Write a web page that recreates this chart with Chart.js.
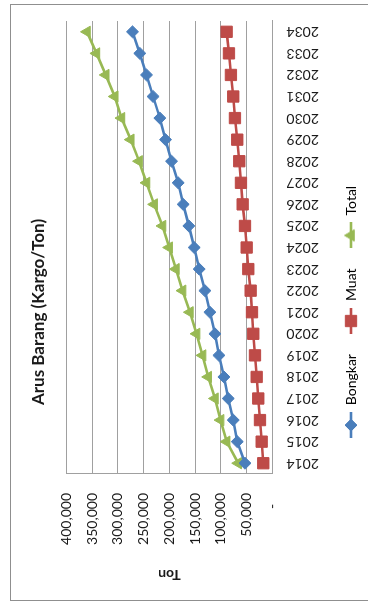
<!DOCTYPE html>
<html>
<head>
<meta charset="utf-8">
<script src="https://cdn.jsdelivr.net/npm/chart.js@4.4.1/dist/chart.umd.min.js"></script>
<style>
    body { margin: 0; background: #fff; width: 368px; height: 603px; overflow: hidden; position: relative; }
    #frame { position: absolute; left: 10px; top: 4px; width: 420px; height: 597px; border: 1.5px solid #8f8f8f; box-sizing: border-box; }
    /* the chart is laid out landscape and turned a quarter left */
    #wrap { position: absolute; left: 0; top: 0; width: 603px; height: 368px; transform-origin: 0 0; transform: translate(0, 603px) rotate(-90deg); }
</style>
</head>
<body>
<div id="frame"></div>
<div id="wrap"><canvas id="myChart" width="603" height="368"></canvas></div>
<script>
"use strict";

const years = ["2014", "2015", "2016", "2017", "2018", "2019", "2020", "2021", "2022", "2023", "2024",
    "2025", "2026", "2027", "2028", "2029", "2030", "2031", "2032", "2033", "2034"];
const bongkar = [53400, 68400, 76200, 85900, 94300, 104000, 111700, 121500, 131200, 142300, 152000,
    162300, 173400, 183100, 195900, 207600, 218600, 231700, 244500, 257500, 271700];
const muat = [17900, 21000, 24300, 27600, 30700, 34000, 37300, 39800, 42400, 47000, 50100,
    53400, 57900, 61200, 64500, 68400, 72900, 76200, 80700, 84500, 89000];
const total = [66500, 89000, 100700, 111700, 124800, 135700, 147300, 160300, 174500, 187500, 200600,
    213400, 229700, 244500, 258900, 275000, 293100, 306100, 323600, 341700, 360000];
const tonTicks = [0, 50000, 100000, 150000, 200000, 250000, 300000, 350000, 400000];

const BLUE = "#4a7ebb";
const RED = "#be4b48";
const GREEN = "#98b954";
const GRID = "#a0a0a0";
const TEXT = "#1a1a1a";

Chart.defaults.font.family = "Lato, 'Liberation Sans', sans-serif";
Chart.defaults.color = TEXT;

// legend icon: short line with the marker in the middle, like Excel
function legendIcon(color, style, radius) {
    const c = document.createElement("canvas");
    c.width = 26;
    c.height = 18;
    const g = c.getContext("2d");
    g.strokeStyle = color;
    g.fillStyle = color;
    g.lineWidth = 2.6;
    g.beginPath();
    g.moveTo(0, 9);
    g.lineTo(26, 9);
    g.stroke();
    g.lineWidth = 1;
    Chart.helpers.drawPoint(g, { pointStyle: style, radius: radius, rotation: 0, borderWidth: 1 }, 13, 9);
    return c;
}

function series(label, data, color, style, radius) {
    return {
        label: label,
        data: data,
        borderColor: color,
        backgroundColor: color,
        borderWidth: 2.6,
        pointStyle: style,
        pointRadius: radius,
        pointBorderWidth: 1,
        pointBackgroundColor: color,
        pointBorderColor: color,
        tension: 0,
        icon: legendIcon(color, style, radius)
    };
}

const ctx = document.getElementById("myChart");

const myChart = new Chart(ctx, {
    type: "line",
    data: {
        labels: years,
        datasets: [
            series("Bongkar", bongkar, BLUE, "rectRot", 6),
            series("Muat", muat, RED, "rect", 8),
            series("Total", total, GREEN, "triangle", 6.5)
        ]
    },
    options: {
        responsive: false,
        animation: false,
        layout: { padding: { left: 0, right: 21, top: 0, bottom: 0 } },
        plugins: {
            title: {
                display: true,
                text: "Arus Barang (Kargo/Ton)",
                color: TEXT,
                font: { size: 17, weight: "bold" },
                padding: { top: 28, bottom: 18 }
            },
            legend: {
                position: "bottom",
                labels: {
                    usePointStyle: true,
                    pointStyleWidth: 26,
                    padding: 20,
                    font: { size: 14 },
                    color: TEXT,
                    generateLabels: (chart) => chart.data.datasets.map((ds, i) => ({
                        text: ds.label,
                        pointStyle: ds.icon,
                        fillStyle: ds.borderColor,
                        strokeStyle: ds.borderColor,
                        lineWidth: 0,
                        hidden: false,
                        datasetIndex: i
                    }))
                }
            },
            tooltip: { enabled: false }
        },
        scales: {
            x: {
                offset: true,
                grid: { display: false, drawTicks: false },
                border: { display: true, color: GRID, width: 1 },
                ticks: { minRotation: 90, maxRotation: 90, padding: 14, font: { size: 14 }, color: TEXT },
                afterFit: (axis) => { axis.height = 51.5; }
            },
            y: {
                min: 0,
                max: 400000,
                afterBuildTicks: (axis) => { axis.ticks = tonTicks.map((v) => ({ value: v })); },
                grid: { color: GRID, lineWidth: 1, drawTicks: false },
                border: { display: true, color: GRID, width: 1 },
                ticks: {
                    padding: 19,
                    font: { size: 14 },
                    color: TEXT,
                    callback: (v) => (v === 0 ? "-   " : v.toLocaleString("en-US"))
                },
                title: {
                    display: true,
                    text: "Ton",
                    color: TEXT,
                    font: { size: 14, weight: "bold" },
                    padding: { top: 20, bottom: 0 }
                },
                afterFit: (axis) => { axis.width = 129; }
            }
        }
    }
});
</script>
</body>
</html>
